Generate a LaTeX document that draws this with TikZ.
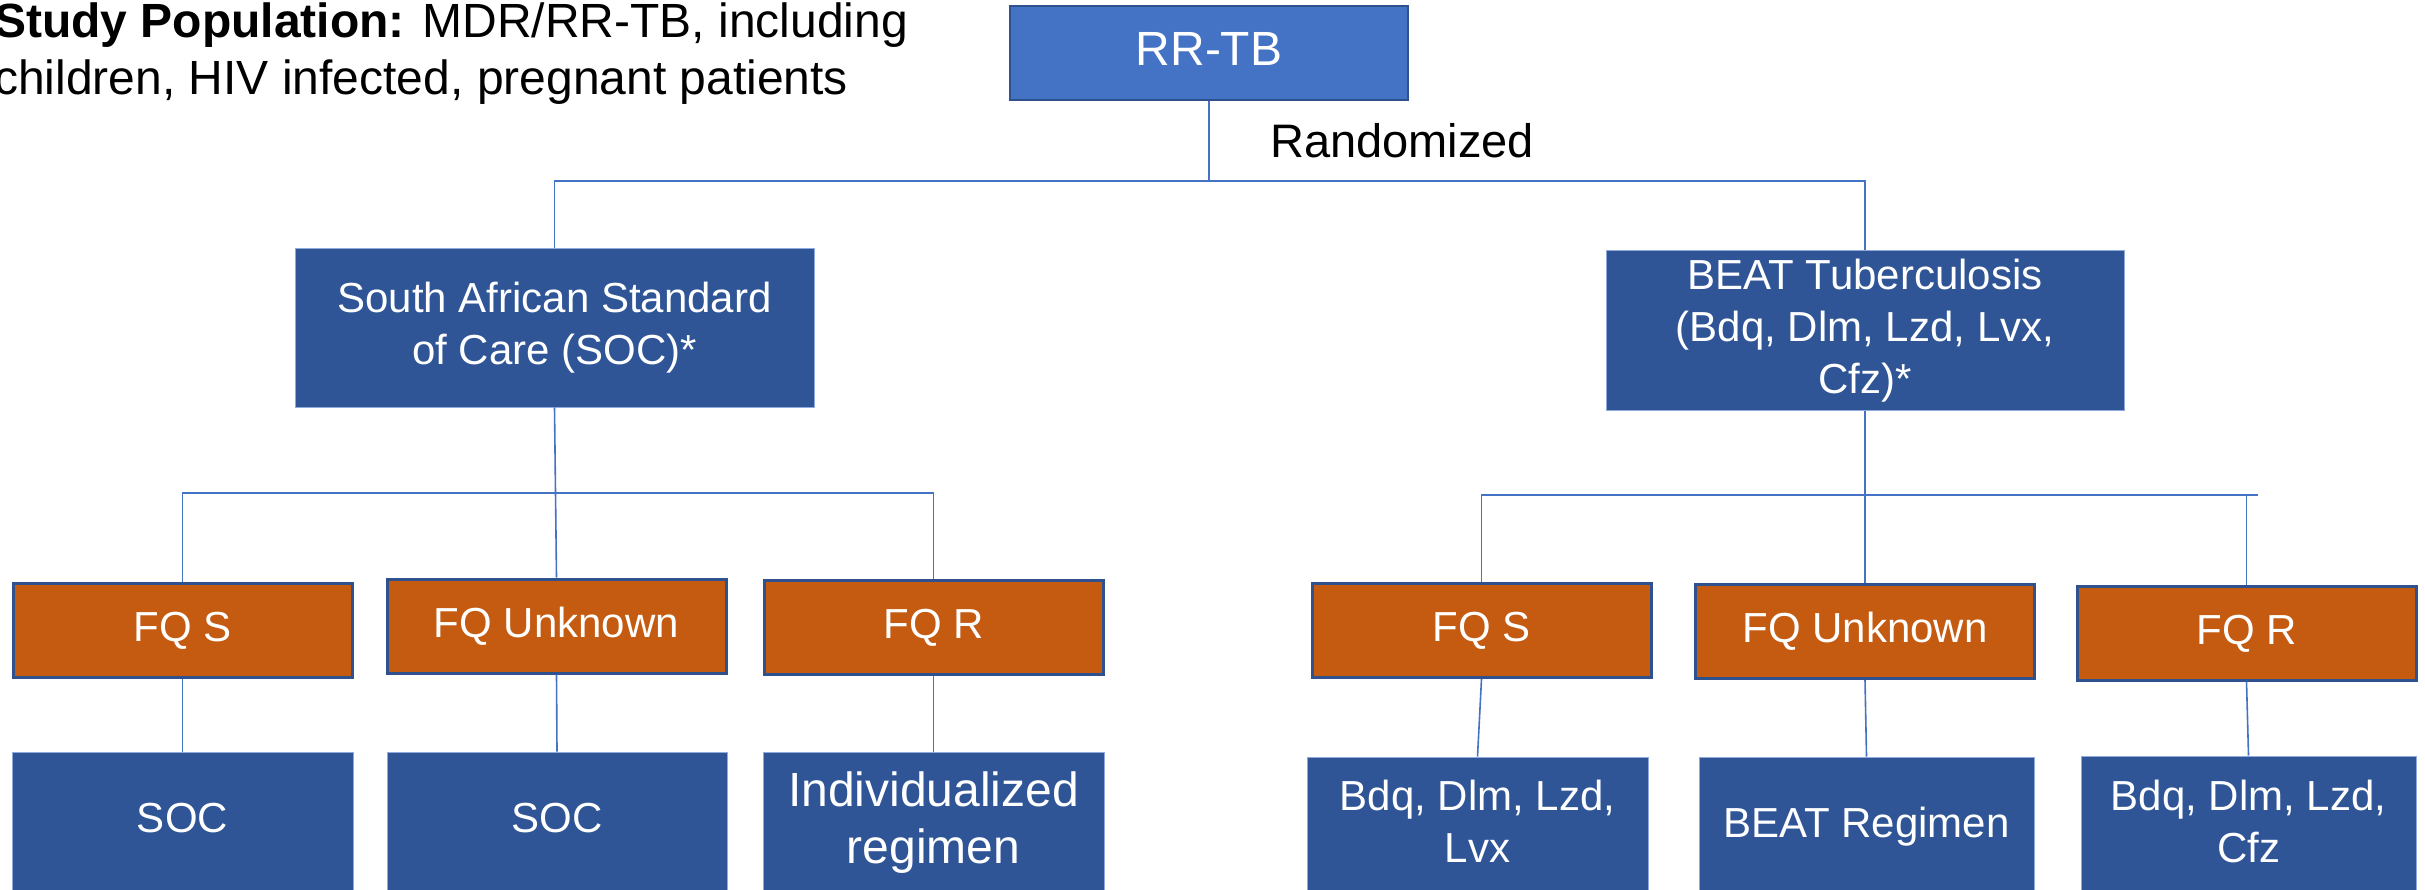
\documentclass[tikz,border=0pt]{standalone}
\usepackage{fontspec}
\setmainfont{Liberation Sans}
\usetikzlibrary{calc}
\definecolor{lblue}{HTML}{4472C4}
\definecolor{dblue}{HTML}{2F5597}
\definecolor{edgeblue}{HTML}{2F528F}
\definecolor{orng}{HTML}{C55A11}
\newcommand{\ls}{\rule[-9pt]{0pt}{40pt}}
\tikzset{
  box/.style={rectangle, inner sep=0pt, align=center, text=white, font=\fontsize{42}{52}\selectfont},
  navy/.style={box, fill=dblue, draw=lblue!60!white, line width=1pt},
  orangebox/.style={box, fill=orng, draw=edgeblue, line width=3pt, minimum width=339pt, minimum height=94pt},
  topbox/.style={box, fill=lblue, draw=edgeblue, line width=2.5pt, font=\fontsize{48}{57}\selectfont},
  conn/.style={draw=lblue, line width=1.6pt},
}
\begin{document}
\begin{tikzpicture}[x=1pt,y=-1pt]
\useasboundingbox (0,0) rectangle (2425,890);
\clip (0,0) rectangle (2425,890);
\fill[white] (0,0) rectangle (2425,890);

% title
\node[anchor=north west, inner sep=0pt, align=left, font=\fontsize{48}{57}\selectfont] (title) at (-6,3)
  {\ls\textbf{Study Population:} MDR/RR-TB, including\\\ls children, HIV infected, pregnant patients};

% top
\node[topbox, minimum width=398pt, minimum height=94pt] (rr) at (1209,53) {\ls RR-TB};
\node[font=\fontsize{47}{56}\selectfont, anchor=base west, inner sep=0pt] (rand) at (1270,158) {Randomized};

\node[navy, minimum width=519pt, minimum height=158pt] (soc) at (554.5,328)
  {\ls South African Standard\\\ls of Care (SOC)*};
\node[navy, minimum width=518pt, minimum height=159pt] (beat) at (1865,330.5)
  {\ls BEAT Tuberculosis\\\ls (Bdq, Dlm, Lzd, Lvx,\\\ls Cfz)*};

% FQ row
\node[orangebox] (fqsA) at (182.5,630) {\ls FQ S};
\node[orangebox] (fquA) at (556.5,626) {\ls FQ Unknown};
\node[orangebox] (fqrA) at (933.5,627.5) {\ls FQ R};
\node[orangebox] (fqsB) at (1481.5,630.5) {\ls FQ S};
\node[orangebox] (fquB) at (1865,631.5) {\ls FQ Unknown};
\node[orangebox] (fqrB) at (2246.5,633) {\ls FQ R};

% bottom row
\node[navy, minimum width=341pt, minimum height=139pt] (socA) at (182.5,821.5) {\ls SOC};
\node[navy, minimum width=340pt, minimum height=139pt] (socB) at (557,821.5) {\ls SOC};
\node[navy, minimum width=341pt, minimum height=142pt, font=\fontsize{48}{57}\selectfont] (indiv) at (933.5,823)
  {\ls Individualized\\\ls regimen};
\node[navy, minimum width=341pt, minimum height=137pt] (bdqA) at (1477.5,825.5) {\ls Bdq, Dlm, Lzd,\\\ls Lvx};
\node[navy, minimum width=335pt, minimum height=139pt] (beatreg) at (1866.5,826.5) {\ls BEAT Regimen};
\node[navy, minimum width=335pt, minimum height=138pt] (bdqB) at (2248.5,825) {\ls Bdq, Dlm, Lzd,\\\ls Cfz};

% connectors
\coordinate (j0) at (1209,181);
\draw[conn] (rr.south) -- (j0);
\draw[conn] (soc.north) -- (soc.north |- j0) -- (beat.north |- j0) -- (beat.north);

\coordinate (jA) at (557,493);
\draw[conn] (soc.south) -- (fquA.north);
\draw[conn] (fqsA.north) -- (fqsA.north |- jA) -- (fqrA.north |- jA) -- (fqrA.north);

\coordinate (jB) at (2258,495);
\draw[conn] (beat.south) -- (fquB.north);
\draw[conn] (fqsB.north) -- (fqsB.north |- jB) -- (jB);
\draw[conn] (fqrB.north |- jB) -- (fqrB.north);

\draw[conn] (fqsA.south) -- (socA.north);
\draw[conn] (fquA.south) -- (socB.north);
\draw[conn] (fqrA.south) -- (indiv.north);
\draw[conn] (fqsB.south) -- (bdqA.north);
\draw[conn] (fquB.south) -- (beatreg.north);
\draw[conn] (fqrB.south) -- (bdqB.north);
\end{tikzpicture}
\end{document}
